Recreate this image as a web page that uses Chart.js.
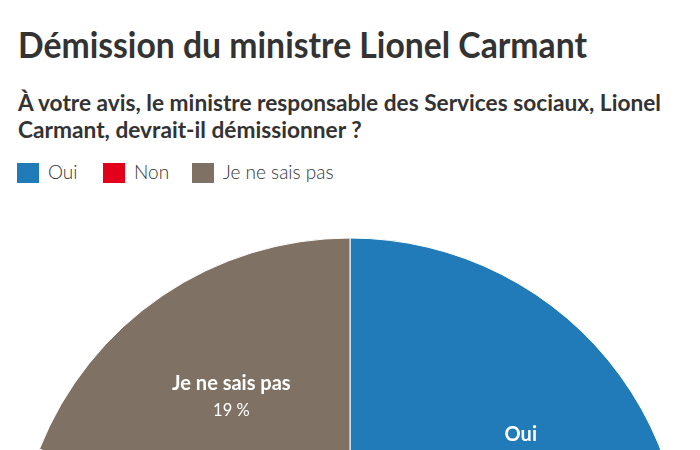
<!DOCTYPE html>
<html>
<head>
<meta charset="utf-8">
<script src="https://cdn.jsdelivr.net/npm/chart.js@4.4.1/dist/chart.umd.min.js"></script>
<style>
  html, body { margin: 0; padding: 0; width: 700px; height: 450px; overflow: hidden; background: #ffffff; }
  .txt { position: absolute; left: 18px; white-space: nowrap; color: #333333; font-family: Lato, "Open Sans", sans-serif; transform-origin: 0 0; }
  #title { top: 26px; font-size: 36px; line-height: 36px; font-weight: 700; }
  .sub { font-size: 22px; line-height: 25px; font-weight: 700; }
  #legend { position: absolute; left: 17px; top: 161px; height: 22px; font-family: Lato, "Open Sans", sans-serif; font-size: 19px; color: #333333; font-weight: 300; }
  .item { position: absolute; top: 0; white-space: nowrap; }
  .sw { position: absolute; top: 2px; width: 22px; height: 20px; }
  .lb { position: absolute; top: 0; line-height: 22px; }
  #pieWrap { position: absolute; left: 0; top: 238px; width: 700px; height: 668px; }
</style>
</head>
<body>
<div id="title" class="txt"></div>
<div id="sub0" class="txt sub" style="top:90px"></div>
<div id="sub1" class="txt sub" style="top:117px"></div>
<div id="legend"></div>
<div id="pieWrap"><canvas id="pie" width="700" height="668"></canvas></div>
<script>
const titleText = "Démission du ministre Lionel Carmant";
const subtitleLines = ["À votre avis, le ministre responsable des Services sociaux, Lionel", "Carmant, devrait-il démissionner ?"];
const categories = ["Oui", "Non", "Je ne sais pas"];
const values = [30, 51, 19];
const colors = ["#217bb8", "#e3001b", "#7f7264"];
const legendX = [0, 86, 175];

function fitWidth(el, target) {
  const w = el.getBoundingClientRect().width;
  if (w > 0) el.style.transform = 'scaleX(' + (target / w) + ')';
}

const titleEl = document.getElementById('title');
titleEl.textContent = titleText;
const sub0 = document.getElementById('sub0');
const sub1 = document.getElementById('sub1');
sub0.textContent = subtitleLines[0];
sub1.textContent = subtitleLines[1];

const legend = document.getElementById('legend');
categories.forEach((c, i) => {
  const item = document.createElement('div');
  item.className = 'item';
  item.style.left = legendX[i] + 'px';
  const sw = document.createElement('div');
  sw.className = 'sw';
  sw.style.background = colors[i];
  const lb = document.createElement('div');
  lb.className = 'lb';
  lb.style.left = '31px';
  lb.textContent = c;
  item.appendChild(sw);
  item.appendChild(lb);
  legend.appendChild(item);
});

function fitAll() {
  const s0 = sub0.getBoundingClientRect().width;
  fitWidth(titleEl, 569);
  const k = 643 / s0;
  sub0.style.transform = 'scaleX(' + k + ')';
  sub1.style.transform = 'scaleX(' + k + ')';
}
fitAll();
if (document.fonts && document.fonts.ready) document.fonts.ready.then(() => {
  titleEl.style.transform = ''; sub0.style.transform = ''; sub1.style.transform = '';
  fitAll();
});

const sliceLabels = {
  id: 'sliceLabels',
  afterDatasetsDraw(chart) {
    const ctx = chart.ctx;
    const meta = chart.getDatasetMeta(0);
    meta.data.forEach((arc, i) => {
      const p = arc.getProps(['x', 'y', 'startAngle', 'endAngle', 'outerRadius'], true);
      const mid = (p.startAngle + p.endAngle) / 2;
      const d = p.outerRadius * 0.632;
      const px = p.x + Math.cos(mid) * d;
      const py = p.y + Math.sin(mid) * d;
      ctx.save();
      ctx.fillStyle = '#ffffff';
      ctx.textAlign = 'center';
      ctx.textBaseline = 'alphabetic';
      ctx.font = '700 20px Lato, "Open Sans", sans-serif';
      ctx.fillText(categories[i], px, py - 7);
      ctx.font = '400 16.5px Lato, "Open Sans", sans-serif';
      ctx.fillText(values[i] + ' %', px, py + 19);
      ctx.restore();
    });
  }
};

new Chart(document.getElementById('pie'), {
  type: 'pie',
  data: {
    labels: categories,
    datasets: [{
      data: values,
      backgroundColor: colors,
      borderColor: '#ffffff',
      borderWidth: 1,
      hoverOffset: 0
    }]
  },
  options: {
    responsive: false,
    animation: false,
    radius: 334,
    layout: { padding: 0 },
    plugins: { legend: { display: false }, tooltip: { enabled: false } }
  },
  plugins: [sliceLabels]
});
</script>
</body>
</html>
